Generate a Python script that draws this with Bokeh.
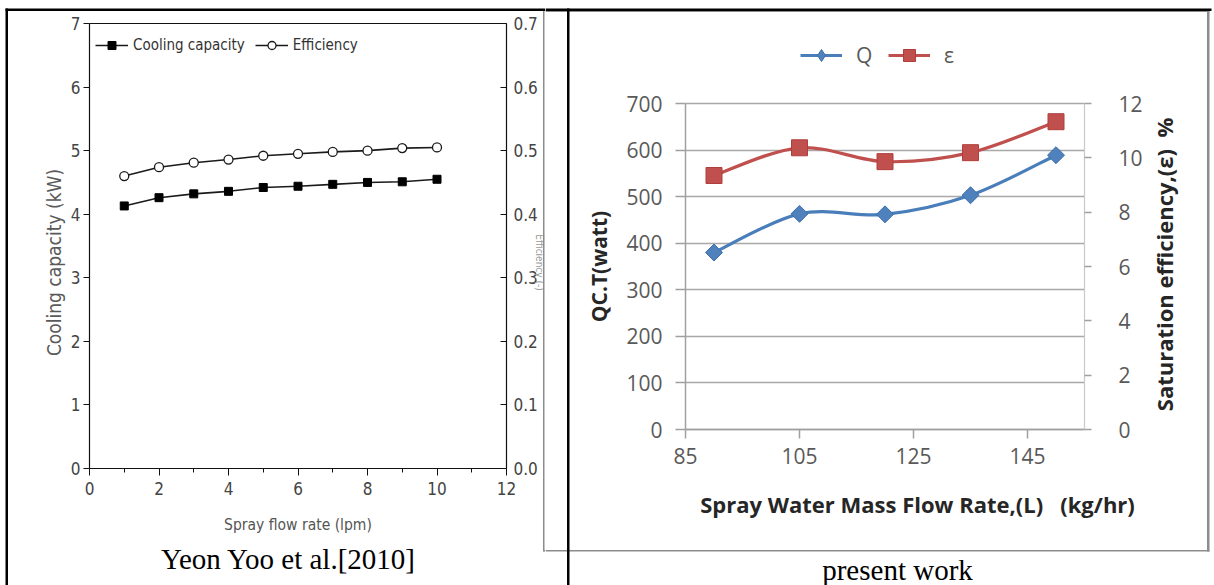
import numpy as np
from bokeh.plotting import figure
from bokeh.models import (Range1d, LinearAxis, FixedTicker, Legend, LegendItem, Label,
                          BoxAnnotation, NumeralTickFormatter)
from bokeh.layouts import row
from bokeh.embed import file_html
from bokeh.resources import INLINE

# ---------------- data: left chart (Yeon Yoo et al. 2010) ----------------
spray_lpm = [1, 2, 3, 4, 5, 6, 7, 8, 9, 10]
cooling_kw = [4.13, 4.26, 4.32, 4.36, 4.42, 4.44, 4.47, 4.50, 4.51, 4.55]
efficiency = [0.460, 0.474, 0.481, 0.486, 0.492, 0.495, 0.498, 0.500, 0.504, 0.505]
left_y_ticks = [0, 1, 2, 3, 4, 5, 6, 7]
left_x_major = [0, 2, 4, 6, 8, 10, 12]
left_x_minor = [1, 3, 5, 7, 9, 11]
eff_ticks = [0.0, 0.1, 0.2, 0.3, 0.4, 0.5, 0.6, 0.7]

# ---------------- data: right chart (present work) ----------------
flow_kg_hr = [90, 105, 120, 135, 150]
q_watt = [380, 463, 462, 503, 589]
sat_eff = [9.35, 10.37, 9.86, 10.19, 11.33]
q_ticks = [0, 100, 200, 300, 400, 500, 600, 700]
sat_ticks = [0, 2, 4, 6, 8, 10, 12]
flow_ticks = [85, 105, 125, 145]

NARROW = "'Liberation Sans Narrow', 'DejaVu Sans Condensed', 'Liberation Sans', sans-serif"
SANS = "'Liberation Sans', Arial, sans-serif"
SERIF = "'Liberation Serif', 'Times New Roman', serif"
EXCEL = "'Open Sans', sans-serif"

H = 585                 # canvas height (page pixels)
LX0, LW = 0, 545        # left canvas: page x 0..545
RX0, RW = 545, 667      # right canvas: page x 545..1212


def lin_range(v0, p0, v1, p1, c_lo, c_hi):
    """Range whose values v0, v1 land on page pixels p0, p1 for a canvas spanning c_lo..c_hi."""
    k = (v1 - v0) / (p1 - p0)
    a = v0 + (c_lo - p0) * k
    b = v0 + (c_hi - p0) * k
    return Range1d(start=min(a, b), end=max(a, b))


def smooth(xs, ys):
    """Catmull-Rom control points (drawing only) for an Excel-like smoothed line."""
    xs = np.asarray(xs, float)
    ys = np.asarray(ys, float)
    n = len(xs)
    px = np.concatenate([[xs[0]], xs, [xs[-1]]])
    py = np.concatenate([[ys[0]], ys, [ys[-1]]])
    return dict(
        x0=xs[:-1], y0=ys[:-1], x1=xs[1:], y1=ys[1:],
        cx0=xs[:-1] + (px[2:n + 1] - px[0:n - 1]) / 6.0,
        cy0=ys[:-1] + (py[2:n + 1] - py[0:n - 1]) / 6.0,
        cx1=xs[1:] - (px[3:n + 2] - px[1:n]) / 6.0,
        cy1=ys[1:] - (py[3:n + 2] - py[1:n]) / 6.0,
    )


def box(fig, cx0, x0, x1, y0, y1, color):
    fig.add_layout(BoxAnnotation(left=x0 - cx0, right=x1 - cx0, top=H - y0, bottom=H - y1,
                                 left_units="screen", right_units="screen",
                                 top_units="screen", bottom_units="screen",
                                 fill_color=color, fill_alpha=1, line_color=None,
                                 level="overlay"))


def label(fig, cx0, x, y, text, **kw):
    fig.add_layout(Label(x=x - cx0, y=H - y, x_units="screen", y_units="screen", text=text,
                         text_align=kw.pop("text_align", "center"),
                         text_baseline=kw.pop("text_baseline", "middle"), **kw))


def base_fig(width, xr, yr):
    f = figure(width=width, height=H, x_range=xr, y_range=yr, output_backend="svg",
               toolbar_location=None, min_border=0, min_border_left=0, min_border_right=0,
               min_border_top=0, min_border_bottom=0)
    f.outline_line_color = None
    f.background_fill_color = "white"
    f.border_fill_color = "white"
    return f


# ======================= LEFT FIGURE =======================
pl = base_fig(LW, lin_range(0, 89, 12, 506, LX0, LX0 + LW), lin_range(0, 468, 7, 23, 0, H))
pl.extra_y_ranges = {"eff": lin_range(0.0, 468, 0.7, 23, 0, H)}
pl.grid.visible = False

INK = "#111111"
TICK_FS = "17px"
for ax in (pl.xaxis[0], pl.yaxis[0]):
    ax.axis_line_color = INK
    ax.axis_line_width = 1.2
    ax.major_tick_line_color = INK
    ax.minor_tick_line_color = INK
    ax.major_tick_in = 0
    ax.minor_tick_in = 0
    ax.major_label_text_font = NARROW
    ax.major_label_text_font_size = TICK_FS
    ax.major_label_text_color = "#444444"
    ax.axis_label_text_font = NARROW
    ax.axis_label_text_font_style = "normal"
    ax.axis_label_text_color = "#555555"

xa = pl.xaxis[0]
xa.fixed_location = 0
xa.bounds = (0, 12)
xa.ticker = FixedTicker(ticks=left_x_major, minor_ticks=left_x_minor)
xa.major_tick_out = 7
xa.minor_tick_out = 4
xa.major_label_standoff = 6
xa.axis_label = "Spray flow rate (lpm)"
xa.axis_label_text_font_size = "15.5px"
xa.axis_label_standoff = 18

ya = pl.yaxis[0]
ya.fixed_location = 0
ya.bounds = (0, 7)
ya.ticker = FixedTicker(ticks=left_y_ticks, minor_ticks=[])
ya.major_tick_out = 6
ya.minor_tick_out = 0
ya.major_label_standoff = 3

ax_eff = LinearAxis(y_range_name="eff", fixed_location=12, bounds=(0.0, 0.7),
                    ticker=FixedTicker(ticks=eff_ticks, minor_ticks=[]),
                    formatter=NumeralTickFormatter(format="0.0"))
ax_eff.axis_line_color = INK
ax_eff.axis_line_width = 1.2
ax_eff.major_tick_line_color = INK
ax_eff.major_tick_in = 6
ax_eff.major_tick_out = 0
ax_eff.minor_tick_in = 0
ax_eff.minor_tick_out = 0
ax_eff.major_label_standoff = 7
ax_eff.major_label_text_font = NARROW
ax_eff.major_label_text_font_size = TICK_FS
ax_eff.major_label_text_color = "#444444"
pl.add_layout(ax_eff, "right")

# closing top edge of the box
ax_top = LinearAxis(fixed_location=7, bounds=(0, 12), ticker=FixedTicker(ticks=[], minor_ticks=[]))
ax_top.axis_line_color = INK
ax_top.axis_line_width = 1.2
ax_top.major_label_text_font_size = "0px"
ax_top.major_tick_out = 0
ax_top.minor_tick_out = 0
pl.add_layout(ax_top, "above")

l_cc = pl.line(spray_lpm, cooling_kw, line_color="#1a1a1a", line_width=1.6)
s_cc = pl.scatter(spray_lpm, cooling_kw, marker="square", size=8, fill_color="black",
                  line_color="black")
l_ef = pl.line(spray_lpm, efficiency, line_color="#1a1a1a", line_width=1.6, y_range_name="eff")
s_ef = pl.scatter(spray_lpm, efficiency, marker="circle", size=9, fill_color="white",
                  line_color="#1a1a1a", line_width=1.3, y_range_name="eff")

leg_l = Legend(items=[LegendItem(label="Cooling capacity", renderers=[l_cc, s_cc]),
                      LegendItem(label="Efficiency", renderers=[l_ef, s_ef])],
               location=(95 - LX0, H - 55), orientation="horizontal", glyph_width=33,
               glyph_height=20, label_standoff=5, spacing=10, padding=0, margin=0,
               border_line_color=None, background_fill_alpha=0,
               label_text_font=NARROW, label_text_font_size="15px", label_text_color="#333333")
pl.add_layout(leg_l)

label(pl, LX0, 53, 262, "Cooling capacity (kW)", angle=np.pi / 2, text_font=NARROW,
      text_font_size="19px", text_color="#5a5a5a")
# right-axis title, almost hidden behind the pasted chart in the reference
label(pl, LX0, 538.5, 262, "Efficiency (-)", angle=-np.pi / 2, text_font=NARROW,
      text_font_size="10px", text_color="#9a9a9a")
label(pl, LX0, 288, 558, "Yeon Yoo et al.[2010]", text_font=SERIF,
      text_font_size="29px", text_color="black")
# table borders and edge of the pasted chart
box(pl, LX0, 542.5, 544, 10, 551, "#8c8c8c")
box(pl, LX0, 543, 545, 549.5, 551, "#8c8c8c")
box(pl, LX0, 5, 7.5, 8, 585, "black")
box(pl, LX0, 5, 545, 8, 10.5, "black")

# ======================= RIGHT FIGURE =======================
pr = base_fig(RW, lin_range(85, 685, 155, 1084, RX0, RX0 + RW), lin_range(0, 429, 700, 103, 0, H))
pr.extra_y_ranges = {"sat": lin_range(0, 429, 12, 103, 0, H)}
pr.xgrid.visible = False
yg = pr.ygrid[0]
yg.ticker = FixedTicker(ticks=q_ticks)
yg.grid_line_color = "#a8a8a8"
yg.grid_line_width = 1.5
if "cross_bounds" in yg.properties():
    yg.cross_bounds = (85, 155)
    yg.bounds = (0, 700)

GRAY = "#a0a0a0"
for ax in (pr.xaxis[0], pr.yaxis[0]):
    ax.axis_line_color = GRAY
    ax.axis_line_width = 1.5
    ax.major_tick_line_color = GRAY
    ax.major_tick_line_width = 1.5
    ax.major_tick_in = 0
    ax.minor_tick_in = 0
    ax.minor_tick_out = 0
    ax.major_label_text_font = EXCEL
    ax.major_label_text_font_size = "21px"
    ax.major_label_text_color = "#595959"

rxa = pr.xaxis[0]
rxa.fixed_location = 0
rxa.bounds = (85, 155)
rxa.ticker = FixedTicker(ticks=flow_ticks, minor_ticks=[])
rxa.major_tick_out = 9
rxa.major_label_standoff = 9

rya = pr.yaxis[0]
rya.fixed_location = 85
rya.bounds = (0, 700)
rya.ticker = FixedTicker(ticks=q_ticks, minor_ticks=[])
rya.major_tick_out = 10
rya.major_label_standoff = 13
rya.axis_label = "QC.T(watt)"
rya.axis_label_text_font = EXCEL
rya.axis_label_text_font_style = "bold"
rya.axis_label_text_font_size = "21px"
rya.axis_label_text_color = "#262626"
rya.axis_label_standoff = 10

ax_sat = LinearAxis(y_range_name="sat", fixed_location=155, bounds=(0, 12),
                    ticker=FixedTicker(ticks=sat_ticks, minor_ticks=[]))
ax_sat.axis_line_color = "#c8c8c8"
ax_sat.axis_line_width = 1.2
ax_sat.major_tick_line_color = GRAY
ax_sat.major_tick_line_width = 1.5
ax_sat.major_tick_in = 0
ax_sat.major_tick_out = 7
ax_sat.minor_tick_in = 0
ax_sat.minor_tick_out = 0
ax_sat.major_label_standoff = 27
ax_sat.major_label_text_font = EXCEL
ax_sat.major_label_text_font_size = "21px"
ax_sat.major_label_text_color = "#595959"
pr.add_layout(ax_sat, "right")

if "cross_bounds" not in yg.properties():
    yg.visible = False
    pr.segment(x0=[85] * len(q_ticks), x1=[155] * len(q_ticks), y0=q_ticks, y1=q_ticks,
               line_color="#a8a8a8", line_width=1.5)

BLUE, RED = "#4a7ebb", "#c0504d"
bq = pr.bezier(line_color=BLUE, line_width=3.2, **smooth(flow_kg_hr, q_watt))
# diamond-shaped twin (kept under the rotated squares) so that the legend shows a diamond
dq = pr.scatter(flow_kg_hr, q_watt, marker="diamond", size=15, fill_color="#4f81bd",
                line_color="#3f6fae", line_width=1)
sq = pr.scatter(flow_kg_hr, q_watt, marker="square", angle=np.pi / 4, size=12,
                fill_color="#4f81bd", line_color="#3f6fae", line_width=1)
be = pr.bezier(line_color=RED, line_width=3.2, y_range_name="sat", **smooth(flow_kg_hr, sat_eff))
se = pr.scatter(flow_kg_hr, sat_eff, marker="square", size=16, fill_color=RED,
                line_color="#b03e3b", line_width=1, y_range_name="sat")

leg_r = Legend(items=[LegendItem(label="Q", renderers=[bq, dq]),
                      LegendItem(label="ε", renderers=[be, se])],
               location=(800 - RX0, H - 70), orientation="horizontal", glyph_width=42,
               glyph_height=30, label_standoff=14, spacing=12, padding=0, margin=0,
               border_line_color=None, background_fill_alpha=0,
               label_text_font=EXCEL, label_text_font_size="21px", label_text_color="#595959")
pr.add_layout(leg_r)

label(pr, RX0, 917, 503, "Spray Water Mass Flow Rate,(L)\u00a0\u00a0 (kg/hr)",
      text_font=EXCEL, text_font_style="bold", text_font_size="22px", text_color="#262626")
label(pr, RX0, 1163, 264, "Saturation efficiency,(ε)\u00a0 %", angle=np.pi / 2,
      text_font=EXCEL, text_font_style="bold", text_font_size="22px", text_color="#262626")
label(pr, RX0, 897, 569, "present work", text_font=SERIF,
      text_font_size="29px", text_color="black")

# pasted chart frame, table top border and column divider
box(pr, RX0, 545, 1209, 9.5, 11.5, "#8c8c8c")
box(pr, RX0, 1206.5, 1209, 10, 551, "#8c8c8c")
box(pr, RX0, 545, 1209, 549.5, 551, "#8c8c8c")
box(pr, RX0, 545, 1211, 8, 10.5, "black")
box(pr, RX0, 566.5, 569, 8, 585, "black")

layout = row(pl, pr)
open("out.html", "w").write(file_html(layout, INLINE))
